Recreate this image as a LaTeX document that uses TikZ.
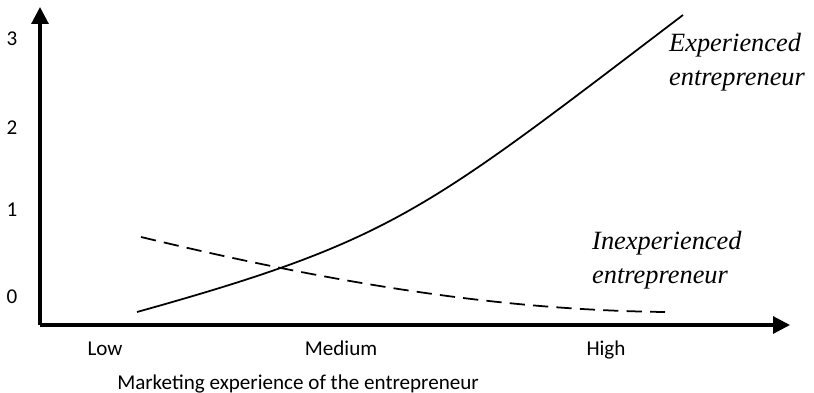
\documentclass[tikz,border=0pt]{standalone}
\usepackage{fontspec}
\setmainfont{Carlito}
\newfontfamily\curvefont{Liberation Serif}
\usetikzlibrary{arrows.meta}

\begin{document}
\begin{tikzpicture}[x=0.03cm, y=-0.03cm,
  axisline/.style={line width=2.6pt, -{Triangle[length=14.5pt, width=14.5pt]}},
  curveline/.style={line width=1.5pt},
  ticklabel/.style={font=\fontsize{18}{20}\selectfont, inner sep=0pt},
  curvelabel/.style={font=\curvefont\itshape\fontsize{22.5}{29}\selectfont, align=left, anchor=west, inner sep=0pt}]
  \useasboundingbox (0, 0) rectangle (814, 393);

  % axes
  \coordinate (origin) at (40, 325);
  \coordinate (ytip) at (40, 7);
  \coordinate (xtip) at (790, 325);
  \draw[axisline] (origin) -- (ytip);
  \draw[axisline] (origin) -- (xtip);

  % y labels
  \foreach \lab / \ycord in {3/39, 2/128, 1/210, 0/297} {
    \node[ticklabel] (y\lab) at (12, \ycord) {\lab};
  }

  % x labels
  \node[ticklabel, anchor=base] (low) at (105, 355) {Low};
  \node[ticklabel, anchor=base] (medium) at (341, 355) {Medium};
  \node[ticklabel, anchor=base] (high) at (606, 355) {High};
  \node[ticklabel, anchor=base] (xtitle) at (298, 389) {Marketing experience of the entrepreneur};

  % experienced entrepreneur
  \coordinate (expstart) at (137, 312);
  \coordinate (expend) at (683, 15);
  \draw[curveline] (expstart) .. controls (395, 240) and (425, 211) .. (expend);
  \node[curvelabel] (exp) at (669, 62) {Experienced\\entrepreneur};

  % inexperienced entrepreneur
  \coordinate (inexpstart) at (141, 237);
  \coordinate (inexpend) at (665, 312);
  \draw[curveline, dash pattern=on 13pt off 7pt] (inexpstart) .. controls (345, 286) and (505, 310) .. (inexpend);
  \node[curvelabel] (inexp) at (592, 260) {Inexperienced\\entrepreneur};
\end{tikzpicture}
\end{document}
